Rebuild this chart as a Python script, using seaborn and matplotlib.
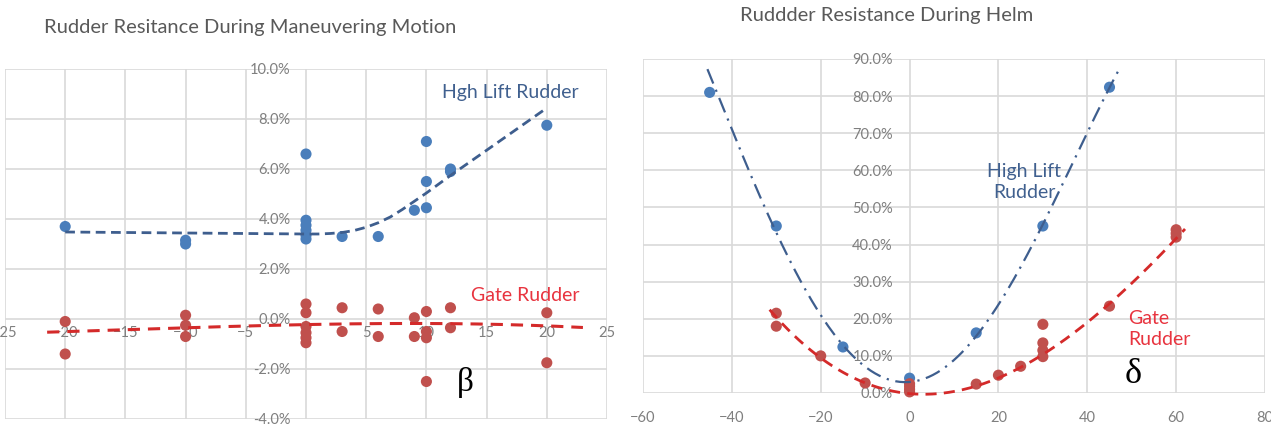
import numpy as np
import pandas as pd
import matplotlib
matplotlib.use("Agg")
import matplotlib.pyplot as plt
from matplotlib import font_manager
from matplotlib.ticker import FuncFormatter
import seaborn as sns

# ---- Rudder resistance during maneuvering motion (drift angle beta) ----
beta_hl_x = [-20, -10, -10, 0, 0, 0, 0, 0, 0, 3, 6, 9, 10, 10, 10, 12, 12, 20]
beta_hl_y = [3.7, 3.0, 3.15, 6.6, 3.95, 3.75, 3.55, 3.35, 3.2, 3.3, 3.3, 4.35, 4.45, 5.5, 7.1, 5.9, 6.0, 7.75]

beta_gr_x = [-20, -20, -10, -10, -10, 0, 0, 0, 0, 0, 0, 3, 3, 6, 6, 9, 9,
             10, 10, 10, 10, 12, 12, 20, 20]
beta_gr_y = [-0.1, -1.4, 0.15, -0.25, -0.7, 0.6, 0.25, -0.3, -0.55, -0.75, -0.95, 0.45, -0.5,
             0.4, -0.7, 0.05, -0.7, 0.3, -0.5, -0.75, -2.5, 0.45, -0.35, 0.25, -1.75]

# trend curves of the beta panel
beta_hl_trend_x = [-20, -10, 0, 1, 2, 3, 4, 5, 6, 7, 8, 10, 12, 15, 20]
beta_hl_trend_y = [3.48, 3.44, 3.40, 3.40, 3.42, 3.46, 3.54, 3.67, 3.85, 4.08, 4.38, 5.04, 5.74, 6.75, 8.44]
beta_gr_trend_x = [-21.5, -15, -10, -5, 0, 5, 10, 15, 20, 23]
beta_gr_trend_y = [-0.55, -0.40, -0.32, -0.28, -0.27, -0.24, -0.14, -0.16, -0.28, -0.36]

# ---- Rudder resistance during helm (rudder angle delta) ----
delta_hl_x = [-45, -30, -15, 0, 15, 30, 45]
delta_hl_y = [81.0, 45.0, 12.4, 4.0, 16.2, 45.0, 82.4]

delta_gr_x = [-30, -30, -20, -10, 0, 0, 0, 0, 15, 20, 25, 30, 30, 30, 30, 45, 60, 60, 60]
delta_gr_y = [21.5, 18.0, 10.0, 2.7, 0.3, 1.0, 1.8, 2.5, 2.4, 4.8, 7.2, 18.5, 13.5, 11.5,
              9.8, 23.4, 44.0, 43.0, 42.0]

# trend curves of the delta panel
delta_hl_trend_x = [-45.5, -40, -30, -20, -15, -10, -3, 0, 10, 15, 20, 30, 40, 45, 47]
delta_hl_trend_y = [87.0, 71.0, 44.5, 20.5, 12.4, 6.2, 3.0, 3.5, 9.7, 16.0, 23.2, 45.0, 70.0, 82.4, 87.0]
delta_gr_trend_x = [-31.5, -20, -10, 0, 10, 15, 20, 25, 30, 45, 60, 62]
delta_gr_trend_y = [22.4, 9.8, 2.5, -0.7, 0.3, 2.2, 4.5, 7.0, 10.5, 23.5, 41.5, 44.5]

left_xticks = [-25, -20, -15, -10, -5, 0, 5, 10, 15, 20, 25]
left_yticks = [-4, -2, 0, 2, 4, 6, 8, 10]
right_xticks = [-60, -40, -20, 0, 20, 40, 60, 80]
right_yticks = [0, 10, 20, 30, 40, 50, 60, 70, 80, 90]

BLUE_DOT = "#4a7ebb"
RED_DOT = "#c0504d"
BLUE_LINE = "#3e5e8e"
RED_LINE = "#d42a2a"
BLUE_TXT = "#40608f"
RED_TXT = "#e8343f"
TICK_GRAY = "#7f7f7f"
TITLE_GRAY = "#595959"
GRID = "#d9d9d9"

sns.set_theme(style="white")
plt.rcParams["font.family"] = ["Lato", "DejaVu Sans"]

installed = {f.name for f in font_manager.fontManager.ttflist}
if "Liberation Sans Narrow" in installed:
    title_font, title_size = "Liberation Sans Narrow", 16.5
else:
    title_font, title_size = "Lato", 14.5

W, H = 1271, 432
fig = plt.figure(figsize=(W / 100, H / 100), dpi=100)
fig.patch.set_facecolor("white")

ax1 = fig.add_axes([5 / W, 13 / H, 602 / W, 350 / H])
ax2 = fig.add_axes([643 / W, 39 / H, 622 / W, 334 / H])

pct = FuncFormatter(lambda v, p: f"{v:.1f}%")


def style_axes(ax, xticks, yticks, xpad, ypad):
    ax.set_xticks(xticks)
    ax.set_yticks(yticks)
    ax.set_xlim(xticks[0], xticks[-1])
    ax.set_ylim(yticks[0], yticks[-1])
    ax.grid(True, color=GRID, linewidth=1.2)
    ax.set_axisbelow(True)
    for s in ax.spines.values():
        s.set_visible(False)
    ax.yaxis.set_major_formatter(pct)
    ax.tick_params(axis="x", length=0, pad=xpad, labelsize=10.5, labelcolor=TICK_GRAY)
    ax.tick_params(axis="y", length=0, pad=ypad, labelsize=10.5, labelcolor=TICK_GRAY)
    ax.set_xlabel("")
    ax.set_ylabel("")


def trend(ax, tx, ty, deg, **kw):
    """Smooth trend curve through the given trend samples."""
    coef = np.polyfit(tx, ty, deg)
    xs = np.linspace(min(tx), max(tx), 300)
    ax.plot(xs, np.polyval(coef, xs), zorder=4, clip_on=False, **kw)


# ---------- left panel ----------
df_b = pd.DataFrame({
    "angle": beta_hl_x + beta_gr_x,
    "res": beta_hl_y + beta_gr_y,
    "rudder": ["High Lift"] * len(beta_hl_x) + ["Gate"] * len(beta_gr_x),
})
sns.scatterplot(data=df_b, x="angle", y="res", hue="rudder",
                palette={"High Lift": BLUE_DOT, "Gate": RED_DOT},
                s=64, linewidth=0, legend=False, ax=ax1, zorder=3, clip_on=False)

# high-lift trend bends sharply, so it follows its samples directly
ax1.plot(beta_hl_trend_x, beta_hl_trend_y, color=BLUE_LINE, lw=2.0, dashes=(3.5, 2),
         zorder=4, solid_joinstyle="round")
trend(ax1, beta_gr_trend_x, beta_gr_trend_y, 3, color=RED_LINE, lw=2.2, dashes=(4, 2.6))

style_axes(ax1, left_xticks, left_yticks, xpad=5, ypad=11)
ax1.spines["left"].set_position(("data", 0))
ax1.spines["bottom"].set_position(("data", 0))

ax1.text(11.3, 9.05, "Hgh Lift Rudder", color=BLUE_TXT, fontsize=14, va="center", ha="left")
ax1.text(13.7, 0.95, "Gate Rudder", color=RED_TXT, fontsize=14, va="center", ha="left")
ax1.text(13.25, -2.55, "β", color="black", fontsize=24, family="Liberation Serif",
         va="center", ha="center")

fig.text(250 / W, 1 - 28 / H, "Rudder Resitance During Maneuvering Motion",
         color=TITLE_GRAY, fontsize=title_size, family=title_font, ha="center", va="center")

# ---------- right panel ----------
df_d = pd.DataFrame({
    "angle": delta_hl_x + delta_gr_x,
    "res": delta_hl_y + delta_gr_y,
    "rudder": ["High Lift"] * len(delta_hl_x) + ["Gate"] * len(delta_gr_x),
})
sns.scatterplot(data=df_d, x="angle", y="res", hue="rudder",
                palette={"High Lift": BLUE_DOT, "Gate": RED_DOT},
                s=64, linewidth=0, legend=False, ax=ax2, zorder=3, clip_on=False)

trend(ax2, delta_hl_trend_x, delta_hl_trend_y, 4, color=BLUE_LINE, lw=1.6,
      dashes=(7, 3, 1, 3))
trend(ax2, delta_gr_trend_x, delta_gr_trend_y, 3, color=RED_LINE, lw=2.0, dashes=(4, 2.6))

style_axes(ax2, right_xticks, right_yticks, xpad=13, ypad=12)
ax2.spines["left"].set_position(("data", 0))

ax2.text(25.8, 56.8, "High Lift\nRudder", color=BLUE_TXT, fontsize=14, ha="center",
         va="center", linespacing=1.25)
ax2.text(49.2, 17.2, "Gate\nRudder", color=RED_TXT, fontsize=14, ha="left",
         va="center", linespacing=1.25)
ax2.text(50.3, 4.9, "δ", color="black", fontsize=26, family="Liberation Serif",
         va="center", ha="center")

fig.text(887 / W, 1 - 16 / H, "Ruddder Resistance During Helm",
         color=TITLE_GRAY, fontsize=title_size, family=title_font, ha="center", va="center")

fig.savefig("out.png", dpi=100, facecolor="white")
